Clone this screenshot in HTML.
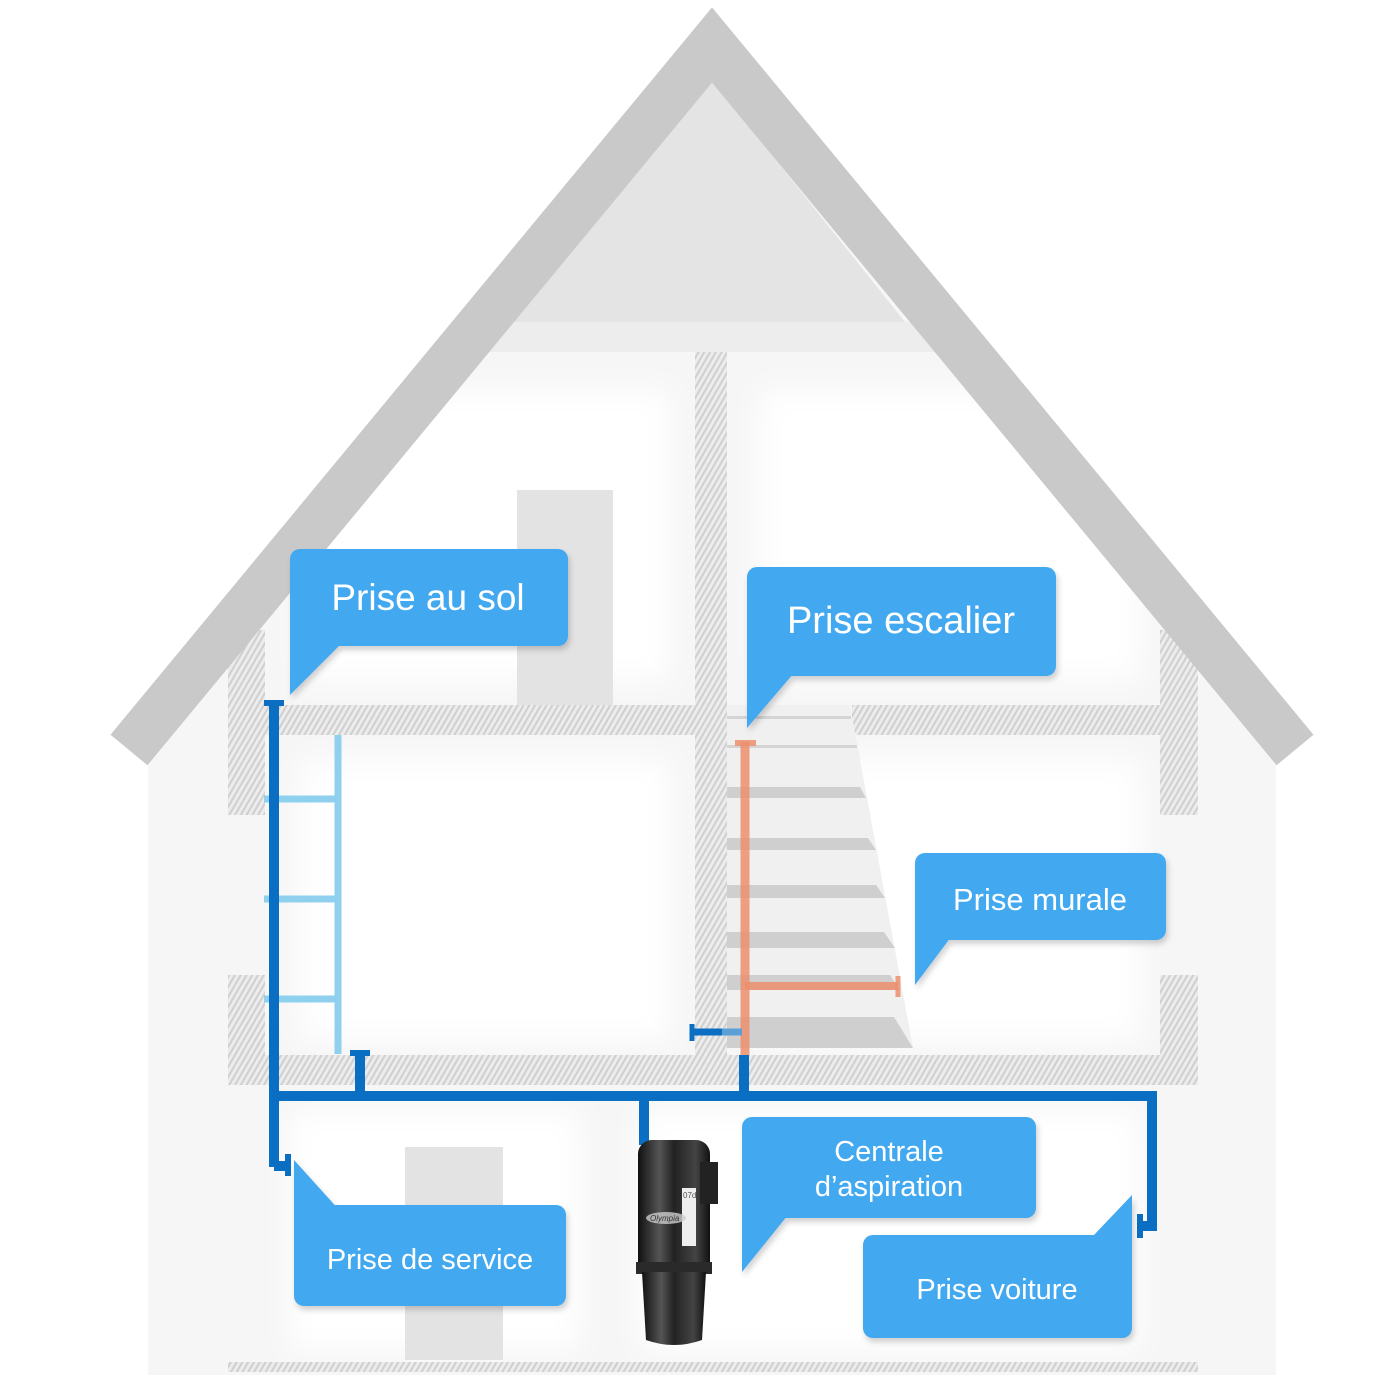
<!DOCTYPE html>
<html><head><meta charset="utf-8"><style>
html,body{margin:0;padding:0;background:#fff;}
svg{display:block;}
text{font-family:"Liberation Sans",sans-serif;fill:#fff;}
</style></head><body>
<svg width="1400" height="1400" viewBox="0 0 1400 1400" xmlns="http://www.w3.org/2000/svg">
<defs>
<pattern id="h" width="5" height="5" patternUnits="userSpaceOnUse" patternTransform="rotate(30)">
<rect width="5" height="5" fill="#ececec"/><rect width="2" height="5" fill="#cfcfcf"/>
</pattern>
<filter id="sh" x="-10%" y="-10%" width="130%" height="140%"><feDropShadow dx="2" dy="4" stdDeviation="3" flood-color="#000" flood-opacity="0.18"/></filter>
<filter id="blur"><feGaussianBlur stdDeviation="14"/></filter>
<linearGradient id="vg" x1="0" x2="1"><stop offset="0" stop-color="#111"/><stop offset="0.3" stop-color="#555"/><stop offset="0.5" stop-color="#222"/><stop offset="0.8" stop-color="#444"/><stop offset="1" stop-color="#111"/></linearGradient>
</defs>
<rect width="1400" height="1400" fill="#fff"/>
<polygon points="712,80 1276,765 1276,1375 148,1375 148,765" fill="#f6f6f6"/>
<polygon points="712,80 905,322 510,322" fill="#e4e4e4"/>
<rect x="470" y="322" width="480" height="30" fill="#ededed"/>
<g filter="url(#blur)">
<rect x="300" y="390" width="370" height="290" fill="#fff"/>
<rect x="760" y="390" width="380" height="290" fill="#fff"/>
<rect x="300" y="760" width="370" height="280" fill="#fff"/>
<rect x="760" y="760" width="380" height="280" fill="#fff"/>
<rect x="290" y="1110" width="290" height="240" fill="#fff"/>
<rect x="640" y="1110" width="500" height="240" fill="#fff"/>
</g>
<rect x="517" y="490" width="96" height="215" fill="#e3e3e3"/>
<rect x="405" y="1147" width="98" height="213" fill="#e3e3e3"/>
<rect x="228" y="630" width="37" height="185" fill="url(#h)"/>
<rect x="228" y="975" width="37" height="110" fill="url(#h)"/>
<rect x="1160" y="630" width="38" height="185" fill="url(#h)"/>
<rect x="1160" y="975" width="38" height="110" fill="url(#h)"/>
<rect x="228" y="705" width="467" height="30" fill="url(#h)"/>
<rect x="852" y="705" width="346" height="30" fill="url(#h)"/>
<rect x="695" y="352" width="32" height="733" fill="url(#h)"/>
<rect x="228" y="1055" width="970" height="30" fill="url(#h)"/>
<rect x="228" y="1362" width="970" height="10" fill="url(#h)"/>
<polygon points="727,705 850,705 913,1048 727,1048" fill="#f0f0f0"/>
<rect x="727" y="716" width="124" height="3" fill="#d4d4d4"/>
<rect x="727" y="745" width="130" height="3" fill="#d4d4d4"/>
<polygon points="727,787 860,787 866,798 727,798" fill="#cfcfcf"/>
<polygon points="727,838 868,838 876,850 727,850" fill="#cfcfcf"/>
<polygon points="727,885 876,885 885,898 727,898" fill="#cfcfcf"/>
<polygon points="727,932 884,932 895,948 727,948" fill="#cfcfcf"/>
<polygon points="727,975 890,975 900,990 727,990" fill="#cfcfcf"/>
<polygon points="727,1017 894,1017 913,1048 727,1048" fill="#cfcfcf"/>
<polyline points="129,750 712,45 1295,750" fill="none" stroke="#c9c9c9" stroke-width="48" stroke-linejoin="miter"/>
<g stroke="#8fd0ef" fill="none">
<line x1="338" y1="735" x2="338" y2="1054" stroke-width="7"/>
<line x1="264" y1="799" x2="338" y2="799" stroke-width="7"/>
<line x1="264" y1="899" x2="338" y2="899" stroke-width="7"/>
<line x1="264" y1="999" x2="338" y2="999" stroke-width="7"/>
</g>
<g stroke="#ec8e6c" stroke-opacity="0.85" fill="none">
<line x1="745" y1="742" x2="745" y2="1055" stroke-width="9"/>
<line x1="735" y1="743" x2="756" y2="743" stroke-width="6"/>
<line x1="745" y1="986" x2="898" y2="986" stroke-width="8"/>
<line x1="898" y1="976" x2="898" y2="997" stroke-width="5"/>
</g>
<g stroke="#0a6fc2" fill="none" stroke-width="10">
<line x1="274" y1="703" x2="274" y2="1167"/>
<line x1="264" y1="703" x2="284" y2="703" stroke-width="6"/>
<polyline points="274,1166 288,1166"/>
<line x1="288" y1="1154" x2="288" y2="1176" stroke-width="6"/>
<polyline points="269,1096 1152,1096 1152,1226 1140,1226"/>
<line x1="1140" y1="1214" x2="1140" y2="1238" stroke-width="6"/>
<line x1="360" y1="1053" x2="360" y2="1096"/>
<line x1="350" y1="1053" x2="370" y2="1053" stroke-width="6"/>
<line x1="644" y1="1096" x2="644" y2="1145"/>
<line x1="744" y1="1055" x2="744" y2="1096"/>
<line x1="692" y1="1032" x2="722" y2="1032" stroke-width="7"/>
<line x1="692" y1="1024" x2="692" y2="1041" stroke-width="5"/>
</g>
<line x1="722" y1="1032" x2="742" y2="1032" stroke="#5b9fd6" stroke-width="7"/>
<g>
<rect x="638" y="1140" width="72" height="60" rx="14" fill="url(#vg)"/>
<rect x="638" y="1160" width="72" height="110" fill="url(#vg)"/>
<rect x="700" y="1162" width="18" height="42" fill="#222"/>
<rect x="682" y="1188" width="14" height="58" fill="#eee"/>
<text x="683" y="1198" font-size="8" style="fill:#555">07d</text>
<ellipse cx="666" cy="1218" rx="20" ry="6" fill="#ccc" opacity="0.8"/>
<text x="650" y="1221" font-size="8" style="fill:#333" font-style="italic">Olympia</text>
<rect x="636" y="1262" width="76" height="12" fill="#2a2a2a"/>
<path d="M642,1272 L706,1272 L702,1340 Q674,1350 646,1340 Z" fill="url(#vg)"/>
</g>
<g fill="#42a8f0" filter="url(#sh)">
<rect x="290" y="549" width="278" height="97" rx="10"/>
<polygon points="290,630 355,630 290,695"/>
<rect x="747" y="567" width="309" height="109" rx="10"/>
<polygon points="747,660 805,660 747,728"/>
<rect x="915" y="853" width="251" height="87" rx="10"/>
<polygon points="915,925 960,925 915,985"/>
<rect x="742" y="1117" width="294" height="101" rx="10"/>
<polygon points="742,1200 800,1200 742,1272"/>
<rect x="294" y="1205" width="272" height="101" rx="10"/>
<polygon points="294,1222 350,1222 294,1160"/>
<rect x="863" y="1235" width="269" height="103" rx="10"/>
<polygon points="1132,1255 1075,1255 1132,1195"/>
</g>
<text x="428" y="610" font-size="37" text-anchor="middle">Prise au sol</text>
<text x="901" y="633" font-size="38" text-anchor="middle">Prise escalier</text>
<text x="1040" y="910" font-size="31" text-anchor="middle">Prise murale</text>
<text x="889" y="1161" font-size="29" text-anchor="middle">Centrale</text>
<text x="889" y="1196" font-size="29" text-anchor="middle">d’aspiration</text>
<text x="430" y="1269" font-size="29" text-anchor="middle">Prise de service</text>
<text x="997" y="1299" font-size="29" text-anchor="middle">Prise voiture</text>
</svg>
</body></html>
